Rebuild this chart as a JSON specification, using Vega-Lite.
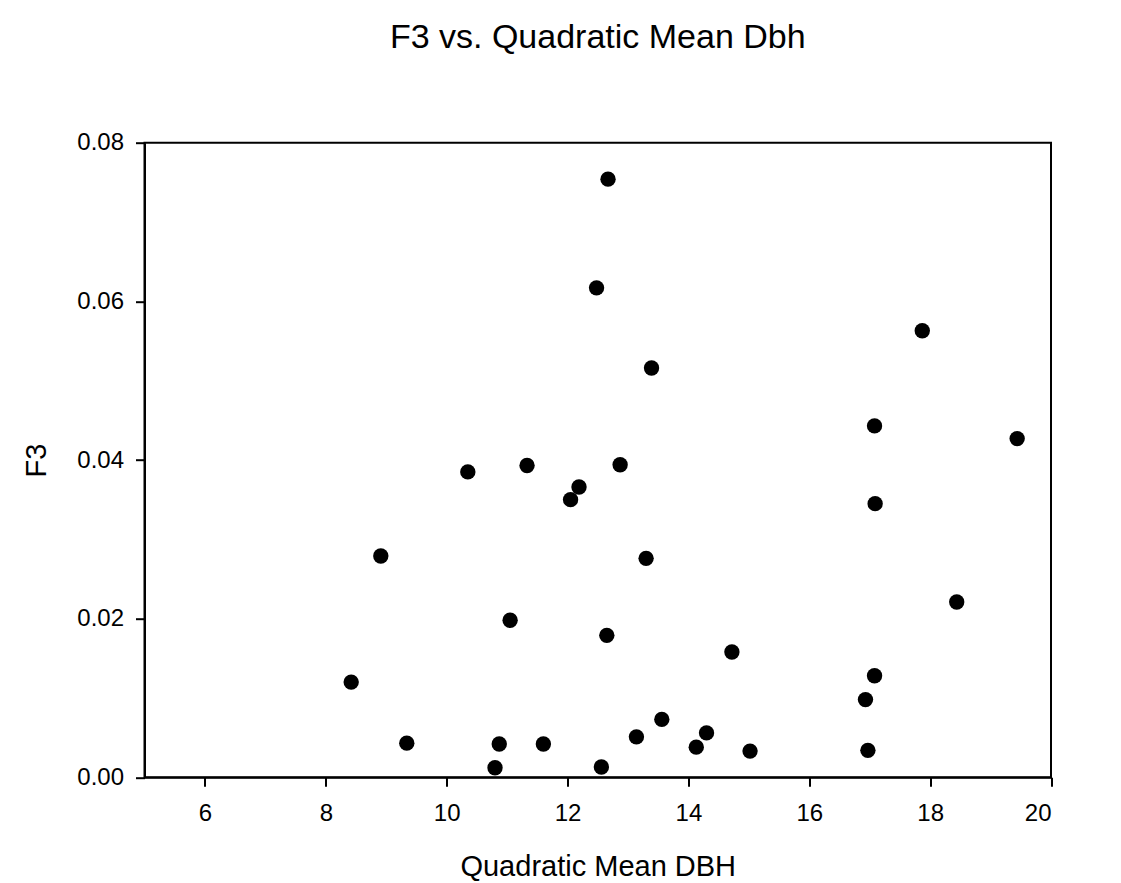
{
  "$schema": "https://vega.github.io/schema/vega-lite/v6.json",
  "autosize": {"type": "none"},
  "padding": {"left": 144.5, "top": 142.7, "right": 70, "bottom": 105.7},
  "width": 906.5,
  "height": 634.6,
  "background": "white",
  "title": {
    "text": "F3 vs. Quadratic Mean Dbh",
    "font": "Liberation Sans",
    "fontSize": 34,
    "fontWeight": "normal",
    "color": "black",
    "anchor": "middle",
    "frame": "group",
    "baseline": "alphabetic",
    "offset": 49
  },
  "data": {
    "values": [
      {"qmd": 12.67, "f3": 0.0754},
      {"qmd": 12.48, "f3": 0.0617},
      {"qmd": 13.39, "f3": 0.0516},
      {"qmd": 10.35, "f3": 0.0385},
      {"qmd": 11.33, "f3": 0.0393},
      {"qmd": 12.87, "f3": 0.0394},
      {"qmd": 12.19, "f3": 0.0366},
      {"qmd": 12.05, "f3": 0.0350},
      {"qmd": 8.91, "f3": 0.0279},
      {"qmd": 13.30, "f3": 0.0276},
      {"qmd": 11.05, "f3": 0.0198},
      {"qmd": 12.65, "f3": 0.0179},
      {"qmd": 8.42, "f3": 0.0120},
      {"qmd": 13.56, "f3": 0.0073},
      {"qmd": 13.14, "f3": 0.0051},
      {"qmd": 9.34, "f3": 0.0043},
      {"qmd": 10.87, "f3": 0.0042},
      {"qmd": 11.60, "f3": 0.0042},
      {"qmd": 10.80, "f3": 0.0012},
      {"qmd": 12.56, "f3": 0.0013},
      {"qmd": 14.13, "f3": 0.0038},
      {"qmd": 14.30, "f3": 0.0056},
      {"qmd": 14.72, "f3": 0.0158},
      {"qmd": 15.02, "f3": 0.0033},
      {"qmd": 17.08, "f3": 0.0128},
      {"qmd": 16.93, "f3": 0.0098},
      {"qmd": 16.97, "f3": 0.0034},
      {"qmd": 18.44, "f3": 0.0221},
      {"qmd": 17.87, "f3": 0.0563},
      {"qmd": 17.08, "f3": 0.0443},
      {"qmd": 19.44, "f3": 0.0427},
      {"qmd": 17.09, "f3": 0.0345}
    ]
  },
  "mark": {"type": "point", "shape": "circle", "filled": true, "color": "black", "opacity": 1, "size": 236},
  "encoding": {
    "x": {
      "field": "qmd",
      "type": "quantitative",
      "title": "Quadratic Mean DBH",
      "scale": {"domain": [5, 20], "nice": false, "zero": false},
      "axis": {"values": [6, 8, 10, 12, 14, 16, 18, 20], "format": "d", "labelPadding": 15, "titlePadding": 27}
    },
    "y": {
      "field": "f3",
      "type": "quantitative",
      "title": "F3",
      "scale": {"domain": [0, 0.08], "nice": false, "zero": false},
      "axis": {"values": [0, 0.02, 0.04, 0.06, 0.08], "format": ".2f", "labelPadding": 12, "titlePadding": 25}
    }
  },
  "config": {
    "font": "Liberation Sans",
    "view": {"stroke": "black", "strokeWidth": 2},
    "axis": {
      "grid": false,
      "domainColor": "black",
      "domainWidth": 2,
      "tickColor": "black",
      "tickWidth": 2,
      "tickSize": 9,
      "labelFont": "Liberation Sans",
      "labelFontSize": 24,
      "labelColor": "black",
      "titleFont": "Liberation Sans",
      "titleFontSize": 29,
      "titleFontWeight": "normal",
      "titleColor": "black"
    }
  }
}
